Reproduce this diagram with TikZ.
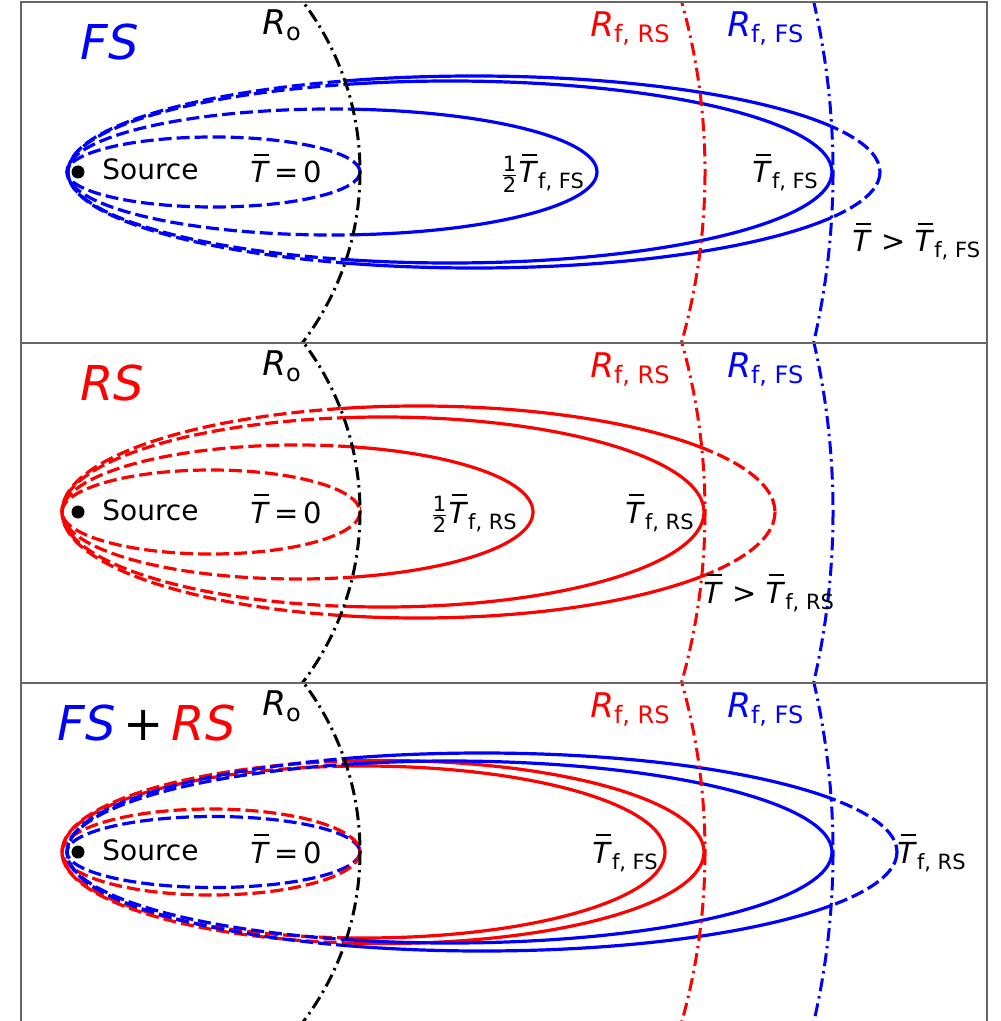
\documentclass[tikz,border=0pt]{standalone}
\usepackage{fontspec}
\setmainfont{DejaVu Sans}

% overlined italic T and lowered subscripts
\newcommand{\Tb}{\makebox[0pt][l]{\hspace{0.12em}\rule[0.93em]{0.52em}{0.065em}}\textit{T}}
\newcommand{\lsub}[1]{\raisebox{-3pt}{\fontsize{10.5}{12}\selectfont #1}}
\newcommand{\rsub}[1]{\raisebox{-3pt}{\fontsize{12}{14}\selectfont #1}}
\newcommand{\half}{$\frac{\hbox{\fontsize{10.5}{11}\selectfont 1}}{\hbox{\fontsize{10.5}{11}\selectfont 2}}$}

% isotherms of each panel (panel coordinates, source at (78,172))
\newcommand{\fscurves}{%
  \draw[fsline,seg] (213.5,172) ellipse[x radius=146.5, y radius=35];
  \draw[fsline,seg] (332,172) ellipse[x radius=265, y radius=63];
  \draw[fsline,seg] (450,172) ellipse[x radius=382, y radius=91];
  \draw[fsline,seg] (474,172) ellipse[x radius=406, y radius=96];}
\newcommand{\rscurves}{%
  \draw[rsline,seg] (211,172) ellipse[x radius=149, y radius=42];
  \draw[rsline,seg] (297.5,172) ellipse[x radius=235.5, y radius=67];
  \draw[rsline,seg] (383,172) ellipse[x radius=321, y radius=95];
  \draw[rsline,seg] (418.5,172) ellipse[x radius=356.5, y radius=106];}
\newcommand{\mixcurves}{%
  \draw[fsline,seg] (213.5,172) ellipse[x radius=146.5, y radius=35.5];
  \draw[rsline,seg] (211,172) ellipse[x radius=149, y radius=43];
  \draw[rsline,seg] (363.5,172) ellipse[x radius=301.5, y radius=86];
  \draw[rsline,seg] (383,172) ellipse[x radius=321, y radius=91.5];
  \draw[fsline,seg] (449.5,172) ellipse[x radius=382.5, y radius=91];
  \draw[fsline,seg] (482,172) ellipse[x radius=415, y radius=99];}

% one panel: dashed inside R_o, solid up to R_f, dashed beyond
\newcommand{\shellpanel}[2]{%
  \begin{scope}
    \clip (21,2.5) rectangle (987,342.5);
    \begin{scope}[seg/.style={dashpart}]
      \clip (78,172) circle[radius=282];
      #1
    \end{scope}
    \begin{scope}[seg/.style={}]
      \clip (78,172-282) arc[start angle=-90, end angle=90, radius=282]
        -- (78,172+#2) arc[start angle=90, end angle=-90, radius=#2] -- cycle;
      #1
    \end{scope}
    \begin{scope}[seg/.style={dashpart}]
      \clip (78,172-#2) arc[start angle=-90, end angle=90, radius=#2]
        -- (1100,172+#2) -- (1100,172-#2) -- cycle;
      #1
    \end{scope}
    % radii
    \draw[radline] (78,172) circle[radius=282];
    \draw[radline, red] (78,172) circle[radius=627];
    \draw[radline, blue] (78,172) circle[radius=755];
  \end{scope}}

% labels common to all panels
\newcommand{\radlabels}[1]{%
  \node[rlab] (ro#1) at (262,35) {\textit{R}\rsub{o}};
  \node[rlab, text=red] (rfrs#1) at (590,37) {\textit{R}\rsub{f, RS}};
  \node[rlab, text=blue] (rffs#1) at (727,37) {\textit{R}\rsub{f, FS}};
  \node[srcdot] (src#1) at (78,172) {};
  \node[lab, font=\fontsize{14}{17}\selectfont] (srclbl#1) at (102,180) {Source};
  \node[lab] (zero#1) at (250,183) {\Tb\,=\,0};}

\begin{document}
\begin{tikzpicture}[x=0.5pt, y=-0.5pt,
    fsline/.style={blue, line width=1.6pt},
    rsline/.style={red, line width=1.6pt},
    seg/.style={},
    dashpart/.style={dash pattern=on 6.5pt off 2.5pt},
    radline/.style={line width=1.5pt, dash pattern=on 6.5pt off 2.5pt on 1.2pt off 2.5pt},
    boxline/.style={draw=black!60, line width=1pt},
    lab/.style={anchor=base west, inner sep=0pt, font=\fontsize{14.5}{17}\selectfont},
    rlab/.style={lab, font=\fontsize{17}{20}\selectfont},
    ttl/.style={lab, font=\fontsize{24}{28}\selectfont\itshape},
    srcdot/.style={circle, fill=black, inner sep=0pt, minimum size=6.5pt}]

    \useasboundingbox (0,0) rectangle (1000,1021);
    \fill[white] (0,0) rectangle (1000,1021);

    % FS panel
    \begin{scope}
      \shellpanel{\fscurves}{755}
      \radlabels{1}
      \node[ttl, text=blue] (ttlfs) at (80,60) {FS};
      \node[lab] (half1) at (500,183) {\half\Tb\lsub{f, FS}};
      \node[lab] (full1) at (752,183) {\Tb\lsub{f, FS}};
      \node[lab] (over1) at (852,252) {\Tb{} > \Tb\lsub{f, FS}};
    \end{scope}

    % RS panel
    \begin{scope}[shift={(0,340)}]
      \shellpanel{\rscurves}{627}
      \radlabels{2}
      \node[ttl, text=red] (ttlrs) at (80,60) {RS};
      \node[lab] (half2) at (430,183) {\half\Tb\lsub{f, RS}};
      \node[lab] (full2) at (625,183) {\Tb\lsub{f, RS}};
      \node[lab] (over2) at (703,263) {\Tb{} > \Tb\lsub{f, RS}};
    \end{scope}

    % FS+RS panel
    \begin{scope}[shift={(0,680)}]
      \shellpanel{\mixcurves}{755}
      \radlabels{3}
      \node[ttl] (ttlmix) at (57,60) {\textcolor{blue}{FS}\,{\upshape +}\,\textcolor{red}{RS}};
      \node[lab] (full3) at (592,183) {\Tb\lsub{f, FS}};
      \node[lab] (over3) at (897,183) {\Tb\lsub{f, RS}};
    \end{scope}

    % frames
    \draw[boxline] (21,1030) -- (21,2.5) -- (987,2.5) -- (987,1030);
    \draw[boxline] (21,342.5) -- (987,342.5);
    \draw[boxline] (21,682.5) -- (987,682.5);
\end{tikzpicture}
\end{document}
